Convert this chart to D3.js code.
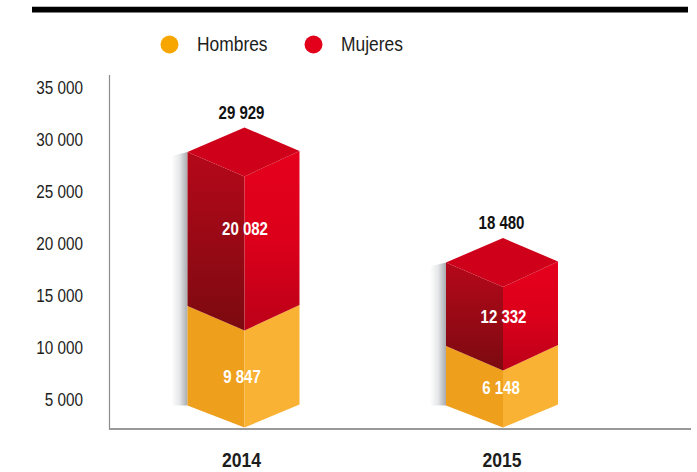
<!DOCTYPE html>
<html><head><meta charset="utf-8">
<script src="https://cdn.jsdelivr.net/npm/d3@7"></script>
<style>
html,body{margin:0;padding:0;background:#fff}
svg{display:block}
text{font-family:"Liberation Sans",Arial,sans-serif}
</style></head><body>
<script>
const years = ["2014","2015"];
const hombres = [9847,6148];
const mujeres = [20082,12332];
const totals = [29929,18480];
const yTicks = [5000,10000,15000,20000,25000,30000,35000];
const seriesNames = ["Hombres","Mujeres"];

const W=697,H=472;
const fmt=n=>String(n).replace(/\B(?=(\d{3})+$)/g," ");
const svg=d3.select("body").append("svg").attr("width",W).attr("height",H);
const defs=svg.append("defs");
function grad(id,stops,horizontal){
  const g=defs.append("linearGradient").attr("id",id).attr("x1",0).attr("y1",0)
    .attr("x2",horizontal?1:0).attr("y2",horizontal?0:1);
  stops.forEach(([o,c])=>g.append("stop").attr("offset",o).attr("stop-color",c));
}
grad("leftRed",[[0,"#b5081a"],[1,"#7c0a10"]]);
grad("rightRed",[[0,"#e5001c"],[0.5,"#dc001b"],[1,"#bb0018"]]);
grad("shadow",[[0,"#ffffff"],[0.5,"#e6e7e9"],[1,"#a8abaf"]],true);

// condensed text: no narrow face is installed, so squeeze a regular one around its anchor
function label(sel,x,y,t,o){
  return sel.append("text")
    .attr("transform",`translate(${x},${y}) scale(${o.sx},1)`)
    .attr("text-anchor",o.anchor||"middle").attr("dy","0.36em")
    .attr("font-size",o.size).attr("font-weight",o.bold?"bold":"normal")
    .attr("fill",o.fill).text(t);
}

// header rule
svg.append("rect").attr("x",32).attr("y",6).attr("width",656).attr("height",1).attr("fill","#bbb");
svg.append("rect").attr("x",32).attr("y",7).attr("width",656).attr("height",5.5).attr("fill","#000");

// the axis labels follow a linear scale
const yAxisScale=d3.scaleLinear().domain([5000,35000]).range([400,88]);
// the drawn columns are not to the axis's scale in the source: piecewise mapping
const barScale=d3.scaleLinear().domain([0,6148,9847,18480,29929]).range([405.5,346,306,262.5,152]);
const x=d3.scalePoint().domain(years).range([244.5,503]);
const hw=57, dropY=24.5;

// axes
const yg=svg.append("g");
yTicks.forEach(t=>label(yg,83,yAxisScale(t),fmt(t),{sx:0.85,size:18,anchor:"end",fill:"#1d1d1b"}));
svg.append("line").attr("x1",109.5).attr("x2",109.5).attr("y1",75).attr("y2",430).attr("stroke","#8c8c8c").attr("stroke-width",1.2);
svg.append("line").attr("x1",109).attr("x2",691).attr("y1",429).attr("y2",429).attr("stroke","#999").attr("stroke-width",2);

const path=d3.line();
const totalDx=[-3,-1.5], mujDx=[0.5,0.5], mujDy=[-1,12], homDx=[-2.5,-2], homDy=[20,11], yrDx=[-3,-1];
years.forEach((yr,i)=>{
  const cx=x(yr),l=cx-hw,r=cx+hw-2,b0=barScale(0),b1=barScale(hombres[i]),b2=barScale(totals[i]);
  const g=svg.append("g");
  const face=(pts,fill)=>g.append("path").attr("d",path(pts)+"Z").attr("fill",fill);
  face([[l-16,b2+4],[l,b2],[l,b0],[l-16,b0]],"url(#shadow)");
  face([[l,b1],[cx,b1+dropY],[cx,b0+dropY-2.5],[l,b0]],"#ee9f1c");
  face([[cx,b1+dropY],[r,b1-1],[r,b0-1],[cx,b0+dropY-2.5]],"#f9b233");
  face([[l,b2],[cx,b2+dropY],[cx,b1+dropY],[l,b1]],"url(#leftRed)");
  face([[cx,b2+dropY],[r,b2-1],[r,b1-1],[cx,b1+dropY]],"url(#rightRed)");
  face([[l,b2],[cx,b2-dropY],[r,b2-1],[cx,b2+dropY]],"#cf0019");
  const bold={sx:0.79,size:19,bold:true};
  label(g,cx+totalDx[i],b2-40,fmt(totals[i]),{...bold,fill:"#111"});
  label(g,cx+mujDx[i],(b1+b2)/2+mujDy[i],fmt(mujeres[i]),{...bold,fill:"#fff"});
  label(g,cx+homDx[i],(b0+b1)/2+homDy[i],fmt(hombres[i]),{...bold,fill:"#fff"});
  label(g,cx+yrDx[i],460,yr,{sx:0.88,size:20,bold:true,fill:"#1d1d1b"});
});

// legend
const legX=[169.5,313.5],txtX=[197,341],legCol=["#f7a600","#e2001a"];
seriesNames.forEach((s,i)=>{
  svg.append("circle").attr("cx",legX[i]).attr("cy",44.5).attr("r",9).attr("fill",legCol[i]);
  label(svg,txtX[i],44,s,{sx:0.87,size:20,anchor:"start",fill:"#1d1d1b"});
});
</script></body></html>
